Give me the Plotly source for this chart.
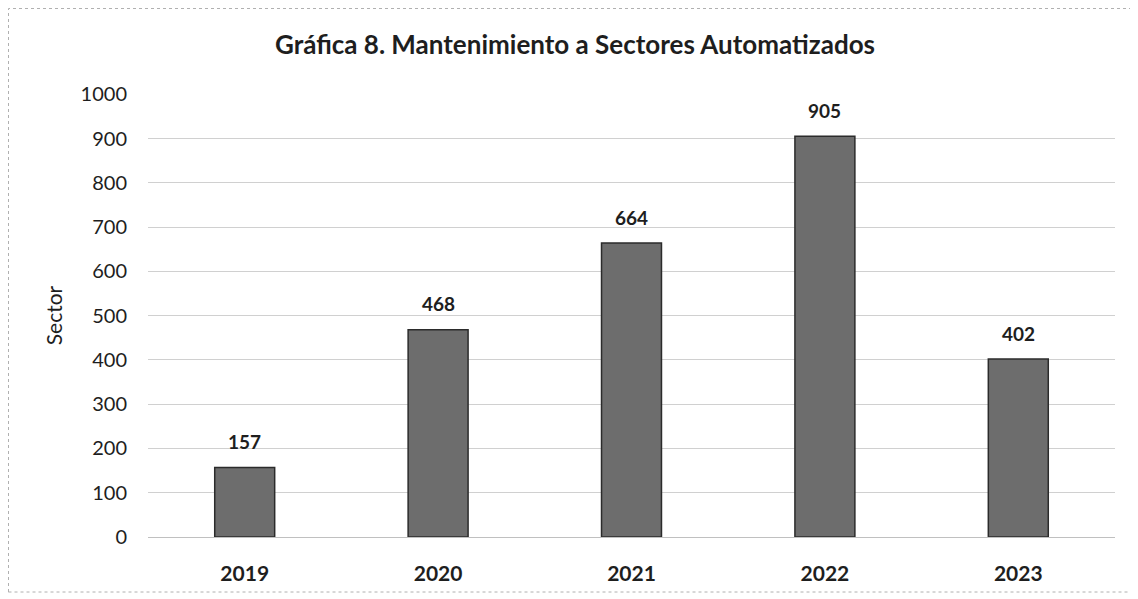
import plotly.graph_objects as go

# Datos de la gráfica
years = ["2019", "2020", "2021", "2022", "2023"]
sectores = [157, 468, 664, 905, 402]
y_ticks = [0, 100, 200, 300, 400, 500, 600, 700, 800, 900, 1000]

# la página añade 8px de margen al body, así que la figura es algo más pequeña
W, H = 1130, 591
ml, mr, mt, mb = 140, 23, 86, 62
font = "Lato, 'Open Sans', sans-serif"
txt = "#1e1e1e"

fig = go.Figure()

fig.add_trace(go.Bar(
    x=years, y=sectores,
    marker=dict(color="#6d6d6d", line=dict(color="#2b2b2b", width=1.5)),
    width=0.31,
    hoverinfo="x+y",
))

# etiquetas de datos encima de las barras (x = indice de categoria)
for i, v in enumerate(sectores):
    fig.add_annotation(x=i, y=v, text=f"<b>{v}</b>", showarrow=False,
                       yshift=26, font=dict(size=19, color=txt, family=font))

# marco del gráfico (punteado gris)
pw, ph = W - ml - mr, H - mt - mb
fig.add_shape(type="rect", xref="paper", yref="paper",
              x0=(0.5 - ml) / pw, x1=(W - 1.5 - ml) / pw,
              y0=-(584 - mt - ph) / ph, y1=1 + (mt - 0.5) / ph,
              line=dict(color="#b0b0b0", width=1, dash="dot"), layer="below")

fig.update_layout(
    width=W, height=H,
    margin=dict(l=ml, r=mr, t=mt, b=mb),
    paper_bgcolor="white", plot_bgcolor="white",
    font=dict(family=font, color=txt),
    title=dict(text="<b>Gráfica 8. Mantenimiento a Sectores Automatizados</b>",
               x=567 / W, xref="container", xanchor="center",
               y=1 - 37 / H, yref="container", yanchor="middle",
               font=dict(size=26, color=txt)),
    showlegend=False,
    xaxis=dict(type="category", range=[-0.5, len(years) - 0.5],
               showgrid=False, showline=False, ticks="",
               tickfont=dict(size=21, color=txt), tickangle=0,
               ticklabelstandoff=22, automargin=False,
               tickvals=years, ticktext=[f"<b>{y}</b>" for y in years]),
    yaxis=dict(range=[0, 1000.5], tickvals=y_ticks, showgrid=True,
               gridcolor="#d0d0d0", gridwidth=1, zeroline=True,
               zerolinecolor="#c0c0c0", zerolinewidth=1,
               tickfont=dict(size=20, color=txt),
               ticklabelstandoff=20, automargin=False,
               title=dict(text="Sector", font=dict(size=21, color=txt), standoff=12)),
)

fig.write_html("out.html")
